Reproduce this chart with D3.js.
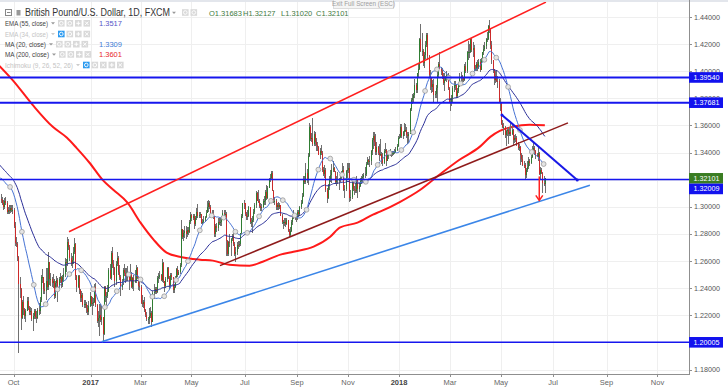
<!DOCTYPE html>
<html>
<head>
<meta charset="utf-8">
<title>British Pound/U.S. Dollar, 1D, FXCM</title>
<script src="https://cdn.jsdelivr.net/npm/d3@7"></script>
<style>
  body { margin: 0; background: #fff; }
  svg { display: block; font-family: "Liberation Sans", Arial, sans-serif; }
</style>
</head>
<body>
<svg id="chart" width="728" height="388"></svg>
<script>
// ---- daily bars, Sep 15 2016 .. Jun 21 2018 (weekdays) ----
const firstOpen = 1.3090;
const closes = [
  // Sep 2016
  1.3060,1.3050,1.3030,1.2995,1.3045,1.3030,1.2965,1.2980,1.2970,1.2990,1.2975,1.2980,
  // Oct
  1.2860,1.2730,1.2725,1.2630,1.2430,1.2395,1.2180,1.2300,1.2240,1.2195,1.2235,1.2305,1.2250,1.2225,1.2235,1.2175,1.2195,1.2230,1.2190,1.2180,1.2240,
  // Nov
  1.2230,1.2310,1.2480,1.2485,1.2395,1.2380,1.2455,1.2405,1.2590,1.2470,1.2470,1.2440,1.2450,1.2345,1.2435,1.2460,1.2410,1.2465,1.2485,1.2420,1.2480,1.2505,
  // Dec
  1.2590,1.2585,1.2740,1.2705,1.2625,1.2580,1.2610,1.2670,1.2725,1.2490,1.2410,1.2490,1.2385,1.2330,1.2350,1.2275,1.2285,1.2285,1.2250,1.2225,1.2270,1.2340,
  // Jan 2017
  1.2285,1.2290,1.2300,1.2405,1.2275,1.2160,1.2180,1.2205,1.2165,1.2185,1.2060,1.2405,1.2345,1.2345,1.2375,1.2535,1.2475,1.2660,1.2575,1.2550,1.2455,1.2580,
  // Feb
  1.2620,1.2520,1.2480,1.2410,1.2445,1.2535,1.2510,1.2485,1.2520,1.2490,1.2460,1.2510,1.2410,1.2475,1.2450,1.2450,1.2545,1.2475,1.2415,1.2410,
  // Mar
  1.2290,1.2285,1.2300,1.2240,1.2205,1.2175,1.2175,1.2195,1.2220,1.2150,1.2365,1.2370,1.2395,1.2370,1.2475,1.2480,1.2495,1.2460,1.2585,1.2450,1.2415,1.2470,1.2550,
  // Apr
  1.2475,1.2420,1.2495,1.2480,1.2385,1.2410,1.2475,1.2540,1.2500,1.2520,1.2570,1.2835,1.2775,1.2805,1.2825,1.2800,1.2830,1.2815,1.2890,1.2940,
  // May
  1.2915,1.2930,1.2875,1.2915,1.2965,1.2935,1.2940,1.2945,1.2880,1.2885,1.2900,1.2925,1.2955,1.2995,1.3030,1.3000,1.2955,1.2955,1.2935,1.2800,1.2860,1.2845,1.2890,
  // Jun
  1.2885,1.2885,1.2915,1.2955,1.2950,1.2950,1.2745,1.2650,1.2740,1.2735,1.2760,1.2785,1.2725,1.2650,1.2665,1.2720,1.2715,1.2725,1.2805,1.2935,1.3030,1.3025,
  // Jul
  1.2945,1.2925,1.2935,1.2995,1.2885,1.2885,1.2900,1.2965,1.3010,1.3100,1.3045,1.3040,1.3005,1.2990,1.3000,1.3040,1.3040,1.3110,1.3065,1.3140,1.3205,
  // Aug
  1.3210,1.3250,1.3120,1.3040,1.3045,1.3000,1.3010,1.3000,1.3010,1.2935,1.2885,1.2885,1.2890,1.2875,1.2905,1.2825,1.2795,1.2825,1.2890,1.2920,1.2945,1.2935,1.2925,
  // Sep
  1.2960,1.2945,1.2995,1.3030,1.3080,1.3195,1.3180,1.3250,1.3195,1.3375,1.3590,1.3500,1.3510,1.3460,1.3535,1.3480,1.3455,1.3440,1.3385,1.3410,1.3400,
  // Oct
  1.3275,1.3245,1.3275,1.3125,1.3065,1.3150,1.3205,1.3235,1.3275,1.3285,1.3260,1.3185,1.3205,1.3195,1.3195,1.3215,1.3255,1.3275,1.3125,1.3130,1.3265,1.3275,
  // Nov
  1.3285,1.3065,1.3075,1.3185,1.3135,1.3125,1.3120,1.3195,1.3135,1.3155,1.3190,1.3210,1.3220,1.3235,1.3245,1.3315,1.3345,1.3330,1.3335,1.3410,1.3495,1.3525,
  // Dec
  1.3480,1.3405,1.3440,1.3400,1.3385,1.3390,1.3355,1.3325,1.3410,1.3420,1.3335,1.3380,1.3385,1.3405,1.3390,1.3395,1.3395,1.3405,1.3420,1.3445,1.3510,
  // Jan 2018
  1.3515,1.3590,1.3520,1.3550,1.3565,1.3570,1.3530,1.3525,1.3540,1.3720,1.3790,1.3800,1.3825,1.3895,1.3860,1.3985,1.4020,1.4240,1.4150,1.4150,1.4060,1.4120,1.4195,
  // Feb
  1.4265,1.4115,1.3970,1.3950,1.3885,1.3905,1.3825,1.3835,1.3880,1.3970,1.4050,1.4020,1.4000,1.3965,1.3910,1.3935,1.3950,1.3970,1.3875,1.3775,
  // Mar
  1.3770,1.3805,1.3880,1.3895,1.3895,1.3820,1.3855,1.3895,1.3950,1.3965,1.3950,1.3935,1.4040,1.4005,1.4140,1.4140,1.4140,1.4235,1.4160,1.4175,1.4015,1.4020,
  // Apr
  1.4050,1.4025,1.4065,1.4010,1.4090,1.4140,1.4165,1.4185,1.4240,1.4240,1.4335,1.4310,1.4190,1.4080,1.4020,1.3935,1.3965,1.3930,1.3925,1.3775,1.3765,
  // May
  1.3610,1.3590,1.3590,1.3530,1.3560,1.3565,1.3535,1.3550,1.3540,1.3565,1.3490,1.3510,1.3505,1.3465,1.3435,1.3440,1.3380,1.3350,1.3310,1.3305,1.3235,1.3275,1.3295,
  // Jun
  1.3340,1.3320,1.3365,1.3410,1.3435,1.3410,1.3385,1.3370,1.3395,1.3245,1.3270,1.3250,1.3175,1.31683,1.32101
];
const highs = [
  1.3120,1.3095,1.3075,1.3050,1.3065,1.3075,1.3045,1.3000,1.3010,1.3015,1.3010,1.3010,
  1.2990,1.2885,1.2775,1.2740,1.2640,1.2480,1.2400,1.2310,1.2340,1.2255,1.2245,1.2335,1.2335,1.2270,1.2260,1.2250,1.2215,1.2245,1.2245,1.2235,1.2250,
  1.2290,1.2335,1.2500,1.2540,1.2450,1.2440,1.2545,1.2545,1.2670,1.2595,1.2510,1.2485,1.2505,1.2470,1.2450,1.2490,1.2475,1.2480,1.2510,1.2490,1.2500,1.2550,
  1.2620,1.2615,1.2775,1.2760,1.2720,1.2660,1.2635,1.2705,1.2770,1.2735,1.2495,1.2500,1.2500,1.2395,1.2380,1.2365,1.2310,1.2310,1.2300,1.2275,1.2305,1.2370,
  1.2345,1.2335,1.2325,1.2430,1.2435,1.2285,1.2235,1.2280,1.2280,1.2265,1.2190,1.2415,1.2415,1.2375,1.2420,1.2545,1.2580,1.2675,1.2705,1.2605,1.2555,1.2600,
  1.2670,1.2635,1.2570,1.2500,1.2470,1.2545,1.2580,1.2545,1.2545,1.2565,1.2515,1.2580,1.2520,1.2485,1.2495,1.2535,1.2570,1.2555,1.2480,1.2460,
  1.2420,1.2350,1.2315,1.2335,1.2245,1.2225,1.2185,1.2250,1.2260,1.2230,1.2380,1.2430,1.2410,1.2410,1.2490,1.2510,1.2525,1.2505,1.2615,1.2590,1.2450,1.2480,1.2555,
  1.2555,1.2490,1.2510,1.2510,1.2485,1.2430,1.2490,1.2545,1.2560,1.2535,1.2585,1.2905,1.2840,1.2830,1.2855,1.2860,1.2850,1.2850,1.2905,1.2965,
  1.2950,1.2950,1.2945,1.2935,1.2990,1.3020,1.2960,1.2960,1.2945,1.2910,1.2935,1.2935,1.2975,1.3045,1.3050,1.3045,1.3015,1.2975,1.2975,1.2935,1.2870,1.2880,1.2915,
  1.2915,1.2920,1.2935,1.2975,1.2980,1.2975,1.2960,1.2755,1.2750,1.2800,1.2770,1.2800,1.2810,1.2740,1.2705,1.2740,1.2745,1.2750,1.2810,1.2950,1.3030,1.3050,
  1.3030,1.2965,1.2975,1.3005,1.2995,1.2920,1.2930,1.2985,1.3030,1.3115,1.3110,1.3125,1.3055,1.3030,1.3020,1.3060,1.3080,1.3125,1.3160,1.3150,1.3215,
  1.3245,1.3265,1.3265,1.3125,1.3075,1.3055,1.3030,1.3035,1.3030,1.3015,1.2950,1.2905,1.2920,1.2920,1.2915,1.2905,1.2835,1.2850,1.2905,1.2935,1.2980,1.2950,1.2950,
  1.2975,1.2975,1.3005,1.3050,1.3105,1.3225,1.3225,1.3325,1.3280,1.3400,1.3615,1.3600,1.3545,1.3655,1.3560,1.3550,1.3510,1.3475,1.3450,1.3435,1.3455,
  1.3410,1.3290,1.3305,1.3285,1.3140,1.3165,1.3230,1.3270,1.3315,1.3340,1.3295,1.3265,1.3225,1.3255,1.3215,1.3230,1.3265,1.3320,1.3300,1.3160,1.3270,1.3320,
  1.3320,1.3320,1.3125,1.3200,1.3215,1.3150,1.3175,1.3225,1.3195,1.3175,1.3215,1.3230,1.3245,1.3250,1.3290,1.3330,1.3365,1.3355,1.3375,1.3420,1.3510,1.3550,
  1.3550,1.3535,1.3475,1.3450,1.3460,1.3500,1.3405,1.3400,1.3430,1.3470,1.3430,1.3405,1.3410,1.3430,1.3415,1.3410,1.3410,1.3425,1.3440,1.3465,1.3520,
  1.3535,1.3610,1.3610,1.3560,1.3615,1.3610,1.3585,1.3555,1.3555,1.3730,1.3800,1.3830,1.3840,1.3945,1.3915,1.3990,1.4050,1.4245,1.4345,1.4280,1.4165,1.4140,1.4225,
  1.4280,1.4285,1.4120,1.4010,1.3955,1.3935,1.3945,1.3855,1.3895,1.4000,1.4065,1.4145,1.4030,1.4025,1.3985,1.3985,1.3965,1.4000,1.3985,1.3885,
  1.3800,1.3825,1.3890,1.3930,1.3925,1.3900,1.3875,1.3905,1.3985,1.3995,1.3975,1.3960,1.4050,1.4070,1.4150,1.4220,1.4200,1.4245,1.4245,1.4215,1.4195,1.4045,
  1.4070,1.4085,1.4090,1.4090,1.4100,1.4145,1.4190,1.4215,1.4245,1.4290,1.4340,1.4377,1.4320,1.4220,1.4080,1.4020,1.4000,1.4010,1.3965,1.3945,1.3800,
  1.3770,1.3640,1.3620,1.3595,1.3565,1.3590,1.3575,1.3585,1.3615,1.3600,1.3575,1.3530,1.3535,1.3520,1.3480,1.3460,1.3450,1.3395,1.3380,1.3335,1.3325,1.3285,1.3340,
  1.3370,1.3350,1.3380,1.3445,1.3470,1.3445,1.3420,1.3400,1.3445,1.3405,1.3290,1.3285,1.3260,1.3230,1.32127
];
const lows = [
  1.3040,1.3025,1.3010,1.2975,1.2985,1.3010,1.2950,1.2945,1.2950,1.2955,1.2960,1.2950,
  1.2845,1.2710,1.2700,1.2600,1.1920,1.2330,1.2090,1.2170,1.2200,1.2170,1.2150,1.2230,1.2240,1.2200,1.2200,1.2160,1.2085,1.2175,1.2175,1.2145,1.2170,
  1.2200,1.2210,1.2300,1.2440,1.2360,1.2355,1.2310,1.2390,1.2390,1.2420,1.2415,1.2410,1.2400,1.2320,1.2330,1.2400,1.2300,1.2395,1.2440,1.2400,1.2405,1.2445,
  1.2480,1.2520,1.2560,1.2680,1.2600,1.2565,1.2545,1.2580,1.2650,1.2460,1.2370,1.2400,1.2355,1.2300,1.2300,1.2260,1.2255,1.2255,1.2220,1.2200,1.2200,1.2260,
  1.2270,1.2200,1.2270,1.2290,1.2260,1.2140,1.2110,1.2050,1.2150,1.2130,1.2000,1.2055,1.2295,1.2275,1.2330,1.2370,1.2470,1.2460,1.2550,1.2500,1.2410,1.2420,
  1.2565,1.2495,1.2460,1.2345,1.2385,1.2420,1.2490,1.2440,1.2455,1.2450,1.2385,1.2455,1.2400,1.2395,1.2380,1.2440,1.2440,1.2470,1.2385,1.2380,
  1.2280,1.2260,1.2250,1.2225,1.2185,1.2160,1.2135,1.2135,1.2180,1.2110,1.2150,1.2320,1.2355,1.2355,1.2365,1.2435,1.2470,1.2450,1.2445,1.2440,1.2375,1.2400,1.2445,
  1.2465,1.2395,1.2410,1.2460,1.2365,1.2365,1.2400,1.2460,1.2485,1.2495,1.2505,1.2555,1.2760,1.2750,1.2770,1.2765,1.2780,1.2790,1.2805,1.2875,
  1.2895,1.2900,1.2840,1.2855,1.2905,1.2915,1.2915,1.2920,1.2875,1.2865,1.2880,1.2885,1.2920,1.2955,1.2960,1.2985,1.2945,1.2925,1.2910,1.2775,1.2775,1.2815,1.2825,
  1.2865,1.2860,1.2860,1.2900,1.2935,1.2910,1.2635,1.2640,1.2640,1.2700,1.2635,1.2745,1.2710,1.2640,1.2590,1.2645,1.2690,1.2700,1.2710,1.2800,1.2920,1.2985,
  1.2935,1.2905,1.2905,1.2925,1.2875,1.2850,1.2810,1.2890,1.2950,1.2990,1.3040,1.3030,1.2990,1.2970,1.2970,1.2990,1.3010,1.3015,1.3050,1.3055,1.3140,
  1.3180,1.3195,1.3115,1.3025,1.3010,1.2975,1.2980,1.2975,1.2985,1.2930,1.2875,1.2840,1.2855,1.2850,1.2865,1.2815,1.2775,1.2780,1.2815,1.2865,1.2910,1.2905,1.2890,
  1.2900,1.2925,1.2935,1.2985,1.3020,1.3075,1.3165,1.3165,1.3175,1.3160,1.3370,1.3485,1.3480,1.3445,1.3450,1.3450,1.3410,1.3410,1.3380,1.3355,1.3380,
  1.3255,1.3225,1.3215,1.3110,1.3025,1.3055,1.3125,1.3185,1.3175,1.3255,1.3255,1.3165,1.3150,1.3165,1.3125,1.3185,1.3195,1.3230,1.3115,1.3065,1.3120,1.3215,
  1.3250,1.3035,1.3040,1.3060,1.3120,1.3090,1.3100,1.3100,1.3065,1.3110,1.3145,1.3165,1.3185,1.3195,1.3210,1.3230,1.3310,1.3310,1.3295,1.3305,1.3385,1.3425,
  1.3445,1.3385,1.3380,1.3385,1.3335,1.3375,1.3315,1.3300,1.3315,1.3395,1.3300,1.3335,1.3355,1.3375,1.3370,1.3375,1.3385,1.3390,1.3400,1.3410,1.3440,
  1.3500,1.3505,1.3510,1.3500,1.3525,1.3550,1.3510,1.3460,1.3470,1.3535,1.3705,1.3755,1.3765,1.3805,1.3840,1.3840,1.3955,1.4010,1.4145,1.4110,1.4035,1.4025,1.4090,
  1.4180,1.4080,1.3960,1.3860,1.3840,1.3845,1.3765,1.3800,1.3805,1.3770,1.3955,1.4015,1.3975,1.3945,1.3895,1.3855,1.3930,1.3920,1.3865,1.3765,
  1.3710,1.3740,1.3775,1.3850,1.3860,1.3805,1.3805,1.3840,1.3885,1.3925,1.3920,1.3920,1.3930,1.3990,1.3985,1.4085,1.4100,1.4135,1.4145,1.4105,1.4000,1.4000,
  1.4005,1.4000,1.4015,1.3995,1.4010,1.4065,1.4120,1.4150,1.4165,1.4215,1.4230,1.4280,1.4165,1.4050,1.3990,1.3900,1.3915,1.3920,1.3880,1.3765,1.3710,
  1.3605,1.3580,1.3530,1.3510,1.3450,1.3525,1.3460,1.3525,1.3520,1.3530,1.3455,1.3470,1.3480,1.3450,1.3420,1.3410,1.3305,1.3330,1.3300,1.3285,1.3205,1.3215,1.3260,
  1.3280,1.3300,1.3315,1.3360,1.3395,1.3385,1.3355,1.3365,1.3340,1.3235,1.3205,1.3245,1.3100,1.3150,1.31020
];
// closes of the 19 sessions before the first visible bar (MA 20 warm-up)
const priorCloses = [1.3075,1.3085,1.3230,1.3225,1.3235,1.3190,1.3110,1.3075,1.3140,1.3250,
                     1.3300,1.3325,1.3265,1.3375,1.3290,1.3265,1.3320,1.3195,1.3230];
const ema55Start = 1.3310;

// MA 200: [bar index, value]
const ma200 = [
  [0,1.4039],[11,1.3936],[28,1.3752],[45,1.3590],[57,1.3509],[65,1.3435],[76,1.3325],
  [87,1.3199],[96,1.3126],[108,1.3030],[119,1.2883],[130,1.2758],[141,1.2662],[152,1.2632],
  [169,1.2610],[180,1.2603],[194,1.2573],[211,1.2566],[222,1.2595],[237,1.2647],[248,1.2669],
  [265,1.2706],[279,1.2779],[287,1.2846],[302,1.2883],[315,1.2942],[321,1.2964],[338,1.3037],
  [355,1.3126],[371,1.3236],[388,1.3347],[405,1.3442],[414,1.3516],[422,1.3560],[433,1.3590],
  [447,1.3605],[460,1.3601]
];

// drawings: [bar index, price]
const upperChannel = [[58.7,1.2816],[460.9,1.4510]];
const lowerChannel = [[186.0,1.2566],[479.5,1.3619]];
const supportLine  = [[86.3,1.2004],[498.0,1.3159]];
const fallingLine  = [[423.8,1.3678],[487.3,1.3197]];
const arrowLine    = [[455.3,1.3224],[455.3,1.3047]];
const hLevels      = [1.39540, 1.37681, 1.32009, 1.20005];

const yTickValues = [1.18,1.20,1.22,1.24,1.26,1.28,1.30,1.32,1.34,1.36,1.38,1.40,1.42,1.44];
const xTickMonths = ["2016-10","2017-01","2017-03","2017-05","2017-07","2017-09","2017-11",
                     "2018-01","2018-03","2018-05","2018-07","2018-09","2018-11"];
const xTickLabels = ["Oct","2017","Mar","May","Jul","Sep","Nov","2018","Mar","May","Jul","Sep","Nov"];

const legendRows = [
  {name: "EMA (55, close)", value: "1.3517", on: true},
  {name: "EMA (34, close)", value: "", on: false},
  {name: "MA (20, close)", value: "1.3309", on: true},
  {name: "MA (200, close)", value: "1.3601", on: true},
  {name: "Ichimoku (9, 26, 52, 26)", value: "", on: false}
];

// ---------------------------------------------------------------
const svg = d3.select("#chart");
const W = 728, H = 388, plotR = 689, plotB = 374;

// weekday calendar
const dates = [];
for (let d = new Date(2016, 8, 15); d <= new Date(2018, 10, 30); d.setDate(d.getDate() + 1)) {
  if (d.getDay() !== 0 && d.getDay() !== 6) dates.push(new Date(d));
}
const fmtMonth = d3.timeFormat("%Y-%m");

const x = d3.scaleLinear().domain([77, 337]).range([90.7, 399]);
const y = d3.scaleLinear().domain([1.18, 1.44]).range([369.5, 17]);

const bars = closes.map((c, i) => {
  const o = i === 0 ? firstOpen : closes[i - 1];
  return {i, o, c, h: Math.max(highs[i], o, c), l: Math.min(lows[i], o, c)};
});

// moving averages from the closes
const all = priorCloses.concat(closes);
const ma20 = closes.map((c, i) => {
  const k = i + priorCloses.length;
  return [i, d3.mean(all.slice(k - 19, k + 1))];
});
const ema55 = [];
closes.forEach((c, i) => {
  const prev = i === 0 ? ema55Start : ema55[i - 1][1];
  ema55.push([i, i === 0 ? ema55Start : prev + (2 / 56) * (c - prev)]);
});

svg.append("rect").attr("width", W).attr("height", H).attr("fill", "#fff");
svg.append("rect").attr("width", W).attr("height", 2).attr("fill", "#e3e6ec");

// grid
const xTicks = xTickMonths.map((m, k) => ({i: dates.findIndex(d => fmtMonth(d) === m), label: xTickLabels[k]}));
const grid = svg.append("g").attr("shape-rendering", "crispEdges").attr("stroke", "#efefef");
grid.selectAll(".gh").data(yTickValues).join("line")
  .attr("x1", 0).attr("x2", plotR)
  .attr("y1", d => Math.round(y(d)) + 0.5).attr("y2", d => Math.round(y(d)) + 0.5);
grid.selectAll(".gv").data(xTicks).join("line")
  .attr("y1", 2).attr("y2", plotB)
  .attr("x1", d => Math.round(x(d.i)) + 0.5).attr("x2", d => Math.round(x(d.i)) + 0.5);

svg.append("clipPath").attr("id", "plot").append("rect")
  .attr("x", 0).attr("y", 2).attr("width", plotR).attr("height", plotB - 2);
const plot = svg.append("g").attr("clip-path", "url(#plot)");

const line = d3.line().x(d => x(d[0])).y(d => y(d[1]));

// MA 200
plot.append("path").datum(ma200)
  .attr("d", line.curve(d3.curveMonotoneX)).attr("fill", "none")
  .attr("stroke", "#ff1a1a").attr("stroke-width", 2);
line.curve(d3.curveLinear);

// candles
const candles = plot.append("g").attr("shape-rendering", "crispEdges");
candles.selectAll(".wick").data(bars).join("line")
  .attr("x1", d => Math.round(x(d.i)) + 0.5).attr("x2", d => Math.round(x(d.i)) + 0.5)
  .attr("y1", d => y(d.h)).attr("y2", d => y(d.l))
  .attr("stroke", "#707070").attr("stroke-width", 1);
candles.selectAll(".body").data(bars).join("rect")
  .attr("x", d => Math.round(x(d.i)))
  .attr("width", 1)
  .attr("y", d => y(Math.max(d.o, d.c)))
  .attr("height", d => Math.max(1, Math.abs(y(d.o) - y(d.c))))
  .attr("fill", d => d.c >= d.o ? "#2f7d32" : "#cc2a2a");

// EMA 55 and MA 20
plot.append("path").datum(ema55).attr("d", line).attr("fill", "none")
  .attr("stroke", "#2b2f98").attr("stroke-width", 1);
plot.append("path").datum(ma20).attr("d", line).attr("fill", "none")
  .attr("stroke", "#4673d4").attr("stroke-width", 1);
plot.selectAll(".dot").data(ma20.filter(d => d[0] % 10 === 9)).join("circle")
  .attr("cx", d => x(d[0])).attr("cy", d => y(d[1])).attr("r", 2.4)
  .attr("fill", "#e4e4e4").attr("stroke", "#9b9b9b").attr("stroke-width", 0.8);

// drawings
plot.selectAll(".lvl").data(hLevels).join("line")
  .attr("x1", 0).attr("x2", plotR)
  .attr("y1", d => y(d)).attr("y2", d => y(d))
  .attr("stroke", "#1616ee").attr("stroke-width", (d, k) => k < 2 ? 2 : 1.5);
const drawLine = (pts, color, w) => plot.append("path").datum(pts).attr("d", line)
  .attr("fill", "none").attr("stroke", color).attr("stroke-width", w);
drawLine(upperChannel, "#ff1f1f", 1.5);
drawLine(lowerChannel, "#8e1b1b", 1.5);
drawLine(supportLine, "#3b86e8", 1.6);
drawLine(fallingLine, "#1919e6", 2);
plot.selectAll(".fdot").data(fallingLine).join("circle")
  .attr("cx", d => x(d[0])).attr("cy", d => y(d[1])).attr("r", 1.5).attr("fill", "#1919e6");
drawLine(arrowLine, "#ff2020", 1.5);
const tip = arrowLine[1];
plot.append("path")
  .attr("d", `M${x(tip[0]) - 3.5},${y(tip[1]) - 5}L${x(tip[0])},${y(tip[1])}L${x(tip[0]) + 3.5},${y(tip[1]) - 5}`)
  .attr("fill", "none").attr("stroke", "#ff2020").attr("stroke-width", 1.5);

// right price axis
const lastClose = closes[closes.length - 1];
const boxH = 10.6;
const tags = [{p: lastClose, color: "#3a7d22", yy: y(lastClose)}];
hLevels.forEach(p => {
  let yy = y(p);
  const d = yy - tags[0].yy;
  if (Math.abs(d) < boxH) yy = tags[0].yy + (d >= 0 ? boxH : -boxH);
  tags.push({p, color: "#1212ee", yy});
});
// scale labels sitting right under a tag are not drawn (fully covered)
const shownTicks = yTickValues.filter(v => tags.every(t => Math.abs(y(v) - t.yy) > 3));

const axisG = svg.append("g");
axisG.append("line").attr("x1", plotR + 0.5).attr("x2", plotR + 0.5).attr("y1", 0).attr("y2", plotB + 1)
  .attr("stroke", "#8f8f8f").attr("shape-rendering", "crispEdges");
axisG.selectAll(".yt").data(yTickValues).join("line")
  .attr("x1", plotR).attr("x2", plotR + 3)
  .attr("y1", d => Math.round(y(d)) + 0.5).attr("y2", d => Math.round(y(d)) + 0.5)
  .attr("stroke", "#8f8f8f").attr("shape-rendering", "crispEdges");
axisG.selectAll(".yl").data(shownTicks).join("text")
  .attr("x", 694).attr("y", d => y(d)).attr("dy", "0.35em")
  .attr("font-size", 7.2).attr("fill", "#555")
  .text(d => d3.format(".5f")(d));

const tagG = axisG.selectAll(".tag").data(tags).join("g");
tagG.append("rect").attr("x", plotR).attr("y", d => d.yy - boxH / 2)
  .attr("width", 34).attr("height", boxH).attr("fill", d => d.color);
tagG.append("text").attr("x", 693.5).attr("y", d => d.yy).attr("dy", "0.35em")
  .attr("font-size", 7.2).attr("fill", "#fff").text(d => d3.format(".5f")(d.p));

// bottom time axis
axisG.append("line").attr("x1", 0).attr("x2", plotR + 1).attr("y1", plotB + 0.5).attr("y2", plotB + 0.5)
  .attr("stroke", "#8f8f8f").attr("shape-rendering", "crispEdges");
axisG.selectAll(".xt").data(xTicks).join("line")
  .attr("x1", d => Math.round(x(d.i)) + 0.5).attr("x2", d => Math.round(x(d.i)) + 0.5)
  .attr("y1", plotB).attr("y2", plotB + 3)
  .attr("stroke", "#8f8f8f").attr("shape-rendering", "crispEdges");
axisG.selectAll(".xl").data(xTicks).join("text")
  .attr("x", d => x(d.i)).attr("y", 385)
  .attr("text-anchor", "middle").attr("font-size", 7.5)
  .attr("font-weight", d => /^\d/.test(d.label) ? "bold" : "normal")
  .attr("fill", d => /^\d/.test(d.label) ? "#444" : "#666")
  .text(d => d.label);

// header
const caret = (g, cx, cy, color) => g.append("path")
  .attr("d", `M${cx - 2},${cy - 1}L${cx + 2},${cy - 1}L${cx},${cy + 1.3}Z`).attr("fill", color);

const head = svg.append("g");
head.append("rect").attr("x", 5.5).attr("y", 9.5).attr("width", 6).attr("height", 6)
  .attr("fill", "none").attr("stroke", "#888");
head.append("line").attr("x1", 7).attr("x2", 10.5).attr("y1", 12.5).attr("y2", 12.5).attr("stroke", "#888");
head.append("rect").attr("x", 16.5).attr("y", 10).attr("width", 4).attr("height", 5.5).attr("fill", "#999");
head.append("text").attr("x", 25).attr("y", 16).attr("font-size", 10).attr("fill", "#333")
  .attr("textLength", 145).attr("lengthAdjust", "spacingAndGlyphs")
  .text("British Pound/U.S. Dollar, 1D, FXCM");
caret(head, 174, 12.8, "#999");

function icons(g, x0, yc, n, firstBlue) {
  for (let k = 0; k < n; k++) {
    const ix = x0 + k * 8.5;
    g.append("rect").attr("x", ix).attr("y", yc - 3.3).attr("width", 6.6).attr("height", 6.6)
      .attr("fill", k === 0 && firstBlue ? "#2d9bf0" : "#d9d9d9");
    const cx = ix + 3.3;
    if (k === 0 || k === 1) {
      g.append("circle").attr("cx", cx).attr("cy", yc).attr("r", 1.8)
        .attr("fill", "none").attr("stroke", "#fff").attr("stroke-width", 0.9);
    } else if (k === n - 2 && n > 2) {
      g.append("path").attr("d", `M${cx - 2},${yc}H${cx + 2}M${cx},${yc - 2}V${yc + 2}`)
        .attr("stroke", "#fff").attr("stroke-width", 1);
    } else {
      g.append("path").attr("d", `M${cx - 1.7},${yc - 1.7}L${cx + 1.7},${yc + 1.7}M${cx + 1.7},${yc - 1.7}L${cx - 1.7},${yc + 1.7}`)
        .attr("stroke", "#fff").attr("stroke-width", 1);
    }
  }
}
icons(head, 182, 12.5, 2, false);

const ohlc = [["O1.31683", 209], ["H1.32127", 243], ["L1.31020", 281], ["C1.32101", 316]];
ohlc.forEach(([t, xx]) => head.append("text").attr("x", xx).attr("y", 15.6)
  .attr("font-size", 7.5).attr("fill", "#3f7a3f").text(t));

// legend
const rowY = [23.3, 34, 44.2, 54.4, 65];
const nameLen = [43, 43, 41, 44, 68];
const valueColor = ["#5656c8", null, "#3f7bd6", "#e8262b"];
legendRows.forEach((r, k) => {
  const g = svg.append("g");
  const yc = rowY[k];
  g.append("text").attr("x", 5).attr("y", yc + 2.6).attr("font-size", 7.5)
    .attr("fill", r.on ? "#444" : "#c4c4c4")
    .attr("textLength", nameLen[k]).attr("lengthAdjust", "spacingAndGlyphs").text(r.name);
  const ax = 5 + nameLen[k] + 5;
  caret(g, ax, yc, r.on ? "#9a9a9a" : "#cccccc");
  icons(g, ax + 5, yc, k === 4 ? 5 : 4, !r.on);
  if (r.value) {
    g.append("text").attr("x", 99).attr("y", yc + 2.6).attr("font-size", 7.5)
      .attr("fill", valueColor[k]).text(r.value);
  }
});

// exit full screen hint
svg.append("rect").attr("x", 333.5).attr("y", -1).attr("width", 60).attr("height", 9.5)
  .attr("fill", "#f5f5f5").attr("stroke", "#dcdcdc");
svg.append("text").attr("x", 363.5).attr("y", 6).attr("text-anchor", "middle")
  .attr("font-size", 6.3).attr("fill", "#a0a0a0").text("Exit Full Screen (ESC)");
</script>
</body>
</html>
